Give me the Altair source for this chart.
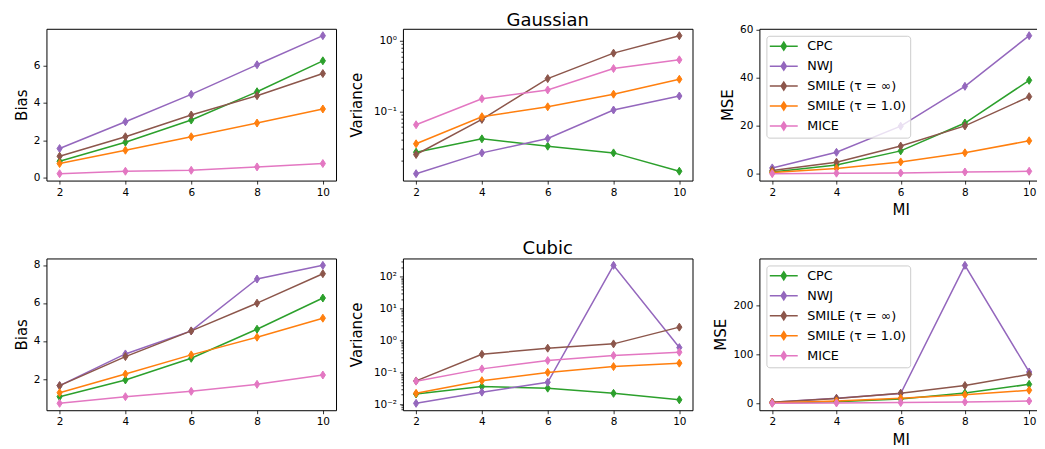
import math
import altair as alt
import pandas as pd

# ---------------- data ----------------
mi = [2, 4, 6, 8, 10]
methods = ["CPC", "NWJ", "SMILE (τ = ∞)", "SMILE (τ = 1.0)", "MICE"]
colors = ["#2ca02c", "#9467bd", "#8c564b", "#ff7f0e", "#e377c2"]

# Gaussian
g_bias_cpc = [0.89, 1.91, 3.09, 4.60, 6.25]
g_bias_nwj = [1.57, 3.00, 4.46, 6.04, 7.59]
g_bias_smile_inf = [1.16, 2.20, 3.36, 4.39, 5.57]
g_bias_smile_1 = [0.77, 1.48, 2.20, 2.93, 3.68]
g_bias_mice = [0.23, 0.36, 0.41, 0.59, 0.77]

g_var_cpc = [0.0264, 0.0408, 0.0321, 0.0258, 0.0142]
g_var_nwj = [0.0131, 0.0258, 0.0413, 0.1045, 0.165]
g_var_smile_inf = [0.0245, 0.0769, 0.291, 0.668, 1.18]
g_var_smile_1 = [0.0347, 0.084, 0.116, 0.175, 0.285]
g_var_mice = [0.0646, 0.151, 0.201, 0.404, 0.537]

g_mse_cpc = [0.8, 3.7, 9.6, 21.2, 39.0]
g_mse_nwj = [2.5, 9.0, 19.9, 36.5, 57.6]
g_mse_smile_inf = [1.4, 4.9, 11.6, 20.0, 32.2]
g_mse_smile_1 = [0.6, 2.3, 5.0, 8.8, 13.8]
g_mse_mice = [0.1, 0.3, 0.4, 0.8, 1.1]

# Cubic
c_bias_cpc = [1.07, 1.95, 3.09, 4.62, 6.26]
c_bias_nwj = [1.65, 3.32, 4.53, 7.26, 7.98]
c_bias_smile_inf = [1.65, 3.18, 4.53, 5.99, 7.54]
c_bias_smile_1 = [1.28, 2.26, 3.27, 4.20, 5.20]
c_bias_mice = [0.72, 1.07, 1.35, 1.72, 2.21]

c_var_cpc = [0.021, 0.036, 0.032, 0.022, 0.0138]
c_var_nwj = [0.0107, 0.024, 0.049, 228.0, 0.6]
c_var_smile_inf = [0.054, 0.37, 0.575, 0.785, 2.63]
c_var_smile_1 = [0.022, 0.055, 0.10, 0.152, 0.195]
c_var_mice = [0.053, 0.129, 0.235, 0.34, 0.43]

c_mse_cpc = [1.2, 3.8, 9.6, 21.4, 39.2]
c_mse_nwj = [2.7, 11.0, 20.6, 281.0, 64.3]
c_mse_smile_inf = [2.8, 10.5, 21.1, 36.7, 59.5]
c_mse_smile_1 = [1.7, 5.2, 10.8, 17.8, 27.2]
c_mse_mice = [0.57, 1.27, 2.06, 3.3, 5.3]

# ---------------- helpers ----------------
FONT = "DejaVu Sans"
DIAMOND = "M0,-1L0.65,0L0,1L-0.65,0Z"
LEG_SYMBOL = "M-3.5,0L3.5,0M0,-1L0.65,0L0,1L-0.65,0Z"
MAJORS = [0.01, 0.1, 1, 10, 100]
SUP = {0.01: "10⁻²", 0.1: "10⁻¹", 1: "10⁰", 10: "10¹", 100: "10²"}


def to_df(series):
    rows = []
    for k, (m, vals) in enumerate(zip(methods, series)):
        for x, v in zip(mi, vals):
            rows.append({"MI": x, "value": v, "method": m, "k": k})
    return pd.DataFrame(rows)


def lin_domain(series):
    vals = [v for s in series for v in s]
    lo, hi = min(vals), max(vals)
    m = 0.05 * (hi - lo)
    return [lo - m, hi + m]


def log_domain(series):
    vals = [math.log10(v) for s in series for v in s]
    lo, hi = min(vals), max(vals)
    m = 0.05 * (hi - lo)
    return [10 ** (lo - m), 10 ** (hi + m)]


def panel(series, ylabel, log=False, yticks=None, title=None, legend=False,
          xtitle=None, width=290):
    df = to_df(series)
    xenc = alt.X(
        "MI:Q",
        scale=alt.Scale(domain=[1.6, 10.4], nice=False, zero=False),
        axis=alt.Axis(values=mi, format="d", title=xtitle if xtitle else None,
                      titlePadding=5),
    )
    if log:
        dom = log_domain(series)
        ticks = []
        for e in range(-3, 4):
            for mlt in range(1, 10):
                v = round(mlt * 10 ** e, 6)
                if dom[0] <= v <= dom[1]:
                    ticks.append(v)
        expr = " : ".join(
            f"datum.value == {v} ? '{SUP[v]}'" for v in MAJORS
        ) + " : ''"
        yaxis = alt.Axis(
            values=ticks,
            labelExpr=expr,
            labelOverlap=False,
            tickSize={"condition": {"test": "indexof([0.01,0.1,1,10,100], datum.value) >= 0",
                                    "value": 3.5}, "value": 2},
            title=ylabel,
            titlePadding=9,
        )
        yscale = alt.Scale(type="log", domain=dom, nice=False)
    else:
        dom = lin_domain(series)
        yaxis = alt.Axis(values=yticks, title=ylabel, format="d")
        yscale = alt.Scale(domain=dom, nice=False, zero=False)

    yenc = alt.Y("value:Q", scale=yscale, axis=yaxis)
    cscale = alt.Scale(domain=methods, range=colors)

    if legend:
        leg = alt.Legend(
            title=None, orient="top-left", offset=7,
            symbolType=LEG_SYMBOL, symbolSize=64, symbolStrokeWidth=1.5,
            labelFontSize=12.8, labelFont=FONT, labelColor="black",
            padding=4, rowPadding=5, symbolOffset=7, labelOffset=17,
            strokeColor="#cccccc", fillColor="rgba(255,255,255,0.8)",
            cornerRadius=3,
        )
    else:
        leg = None

    lines = alt.Chart(df).mark_line(strokeWidth=1.5).encode(
        x=xenc, y=yenc,
        stroke=alt.Stroke("method:N", scale=cscale, legend=leg),
        order=alt.Order("MI:Q"),
    )
    pts = alt.Chart(df).mark_point(shape=DIAMOND, filled=True, size=64,
                                   strokeWidth=1, opacity=1).encode(
        x=xenc, y=yenc,
        fill=alt.Fill("method:N", scale=cscale, legend=leg),
        stroke=alt.Stroke("method:N", scale=cscale, legend=leg),
    )
    ch = alt.layer(lines, pts).properties(width=width, height=152)
    if title:
        ch = ch.properties(title=alt.Title(title, fontSize=18, font=FONT,
                                           fontWeight="normal", anchor="middle",
                                           offset=-1, color="black"))
    return ch


g_bias = [g_bias_cpc, g_bias_nwj, g_bias_smile_inf, g_bias_smile_1, g_bias_mice]
g_var = [g_var_cpc, g_var_nwj, g_var_smile_inf, g_var_smile_1, g_var_mice]
g_mse = [g_mse_cpc, g_mse_nwj, g_mse_smile_inf, g_mse_smile_1, g_mse_mice]
c_bias = [c_bias_cpc, c_bias_nwj, c_bias_smile_inf, c_bias_smile_1, c_bias_mice]
c_var = [c_var_cpc, c_var_nwj, c_var_smile_inf, c_var_smile_1, c_var_mice]
c_mse = [c_mse_cpc, c_mse_nwj, c_mse_smile_inf, c_mse_smile_1, c_mse_mice]

res = dict(fill="independent", stroke="independent")

chart = alt.concat(
    panel(g_bias, "Bias", yticks=[0, 2, 4, 6]),
    panel(g_var, "Variance", log=True, title="Gaussian"),
    panel(g_mse, "MSE", yticks=[0, 20, 40, 60], legend=True, xtitle="MI", width=283),
    panel(c_bias, "Bias", yticks=[2, 4, 6, 8]),
    panel(c_var, "Variance", log=True, title="Cubic"),
    panel(c_mse, "MSE", yticks=[0, 100, 200], legend=True, xtitle="MI", width=283),
    columns=3,
    spacing={"row": 78, "column": 67},
    bounds="flush",
).resolve_scale(**res)

chart = chart.properties(padding={"left": 5.5, "top": 2.5, "right": -6, "bottom": 0}).configure(
    font=FONT,
).configure_view(
    stroke="black", strokeWidth=1,
).configure_axis(
    grid=False, domain=False,
    labelFont=FONT, titleFont=FONT,
    labelFontSize=10.5, titleFontSize=15, titleFontWeight="normal",
    labelColor="black", titleColor="black",
    tickColor="black", tickWidth=0.8, tickSize=3.5,
    labelPadding=3, titlePadding=4,
)

chart.save("out.html", embed_options={"renderer": "svg", "actions": False})
